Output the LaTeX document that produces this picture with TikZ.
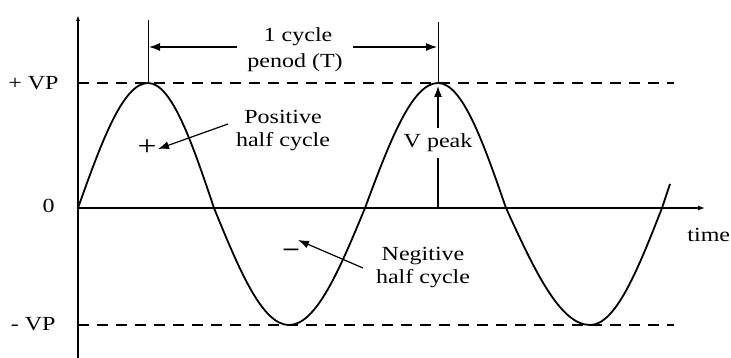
\documentclass[tikz,border=0pt]{standalone}
\usepackage{fontspec}
\setmainfont{Liberation Serif}
\usetikzlibrary{arrows.meta}
\begin{document}
\begin{tikzpicture}[x=1pt,y=-1pt,
  lbl/.style={inner sep=1pt,font=\fontsize{20}{23}\selectfont,align=center,xscale=1.2,transform shape},
  axisline/.style={line width=1.3pt},
  wave/.style={line width=1.8pt},
  dashln/.style={line width=1.3pt,dash pattern=on 11pt off 8pt},
  arr/.style={line width=1.2pt,-{Latex[length=11pt,width=8pt]}},
  thin/.style={line width=1pt}]
\useasboundingbox (0,0) rectangle (731,358);
% axes
\coordinate (O) at (78,208);
\coordinate (ytop) at (78,15);
\coordinate (ybot) at (78,358);
\coordinate (xend) at (705,208);
\draw[axisline,-{Latex[length=6pt,width=4pt]}] (ybot) -- (ytop);
\draw[axisline,-{Latex[length=7pt,width=5pt]}] (O) -- (xend);
% dashed levels
\coordinate (pvL) at (78,83);
\coordinate (pvR) at (674,83);
\coordinate (nvL) at (78,325);
\coordinate (nvR) at (674,325);
\draw[dashln] (pvL) -- (pvR);
\draw[dashln] (nvL) -- (nvR);
% wave
\draw[wave] (O) sin (148,83) cos (214,208) sin (289,325) cos (365,208)
  sin (438,83) cos (506,208) sin (590,325) cos (662,208) -- (670,184);
% labels on axes
\node[lbl,anchor=east] (pvp) at (60,83) {+ VP};
\node[lbl,anchor=east] (zero) at (56,206) {0};
\node[lbl,anchor=east] (nvp) at (57,324) {- VP};
\node[lbl,anchor=west] (time) at (686,235) {time};
% period
\coordinate (p1t) at (148,20);
\coordinate (p1b) at (148,83);
\coordinate (p2t) at (438,22);
\coordinate (p2b) at (438,83);
\draw[thin] (p1t) -- (p1b);
\draw[thin] (p2t) -- (p2b);
\node[lbl] (cyc) at (298,37) {1 cycle};
\node[lbl] (per) at (295,63) {penod (T)};
\coordinate (a1s) at (237,47);
\coordinate (a1e) at (149,47);
\coordinate (a2s) at (353,47);
\coordinate (a2e) at (437,47);
\draw[arr] (a1s) -- (a1e);
\draw[arr] (a2s) -- (a2e);
% positive half cycle
\node[lbl] (pos) at (283,131) {Positive\\half cycle};
\node[lbl,font=\fontsize{28}{28}\selectfont] (plus) at (147,148) {+};
\coordinate (pa) at (228,124);
\draw[arr] (pa) -- (158,149);
% negative half cycle
\node[lbl] (neg) at (423,268) {Negitive\\half cycle};
\node[lbl,font=\fontsize{24}{24}\bfseries\selectfont] (minus) at (291,252) {–};
\coordinate (na) at (363,268);
\draw[arr] (na) -- (298,240);
% V peak
\coordinate (vb) at (438,208);
\coordinate (vt) at (438,86);
\draw[arr] (vb) -- (vt);
\node[lbl,fill=white,inner ysep=6pt] (vpk) at (438,143) {V peak};
\end{tikzpicture}
\end{document}
